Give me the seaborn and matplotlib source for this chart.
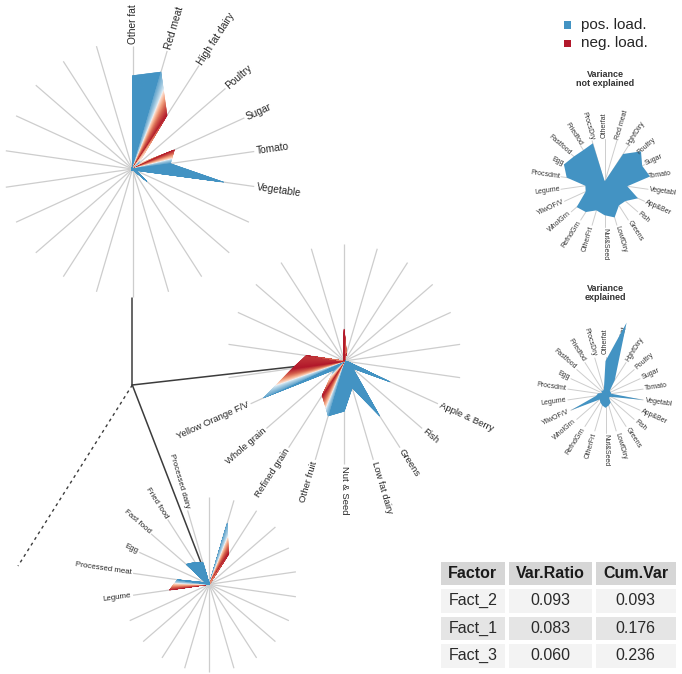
import numpy as np
import matplotlib
matplotlib.use("Agg")
import matplotlib.pyplot as plt
import seaborn as sns
from matplotlib.collections import PolyCollection
from matplotlib.colors import ListedColormap, LinearSegmentedColormap, to_rgb
from matplotlib.patches import Rectangle

sns.set_theme(style="white")
plt.rcParams['font.family'] = ['Liberation Sans', 'DejaVu Sans']

# ---------------- data ----------------
food_groups = ["Other fat", "Red meat", "High fat dairy", "Poultry", "Sugar", "Tomato",
               "Vegetable", "Apple & Berry", "Fish", "Greens", "Low fat dairy", "Nut & Seed",
               "Other fruit", "Refined grain", "Whole grain", "Yellow Orange F/V", "Legume",
               "Processed meat", "Egg", "Fast food", "Fried food", "Processed dairy"]
short_names = ["Otherfat", "Red meat", "HghfDiry", "Poultry", "Sugar", "Tomato", "Vegetabl",
               "App&Ber", "Fish", "Greens", "LowfDiry", "Nut&Seed", "OtherFrt", "RefndGrn",
               "WholGrn", "YllwOF/V", "Legume", "Procsdmt", "Egg", "Fastfood", "Friedfod",
               "ProcsDry"]

# signed loadings (fraction of spoke length)
loadings_top = [0.73, 0.79, -0.50, 0.06, -0.36, 0.30, 0.72, 0.03, 0.15, 0.01, 0.01,
                0.01, 0.01, 0.01, 0.01, 0.01, 0.01, 0.01, 0.01, 0.01, 0.01, 0.01]
loadings_mid = [-0.27, -0.07, 0.0, 0.0, 0.0, 0.0, 0.03, 0.43, 0.10, 0.56, 0.24,
                0.43, 0.49, -0.35, 0.12, 0.76, -0.45, -0.33, 0.0, 0.0, 0.0, 0.0]
loadings_bot = [0.0, 0.73, -0.41, 0.0, 0.0, 0.0, 0.0, 0.0, 0.0, 0.0, 0.0,
                0.0, 0.0, 0.0, 0.0, 0.0, -0.46, 0.37, 0.05, 0.35, 0.30, 0.26]

labels_top = ["Other fat", "Red meat", "High fat dairy", "Poultry", "Sugar", "Tomato", "Vegetable"]
labels_mid = ["Apple & Berry", "Fish", "Greens", "Low fat dairy", "Nut & Seed", "Other fruit",
              "Refined grain", "Whole grain", "Yellow Orange F/V"]
labels_bot = ["Legume", "Processed meat", "Egg", "Fast food", "Fried food", "Processed dairy"]

var_not_explained = [0.05, 0.05, 0.75, 1.05, 0.90, 1.0, 0.50, 0.80, 0.60, 0.58, 0.78,
                     0.70, 0.62, 0.75, 0.80, 0.45, 0.42, 0.83, 0.97, 0.88, 0.85, 0.90]
var_explained = [0.88, 1.97, 0.45, 0.15, 0.15, 0.15, 1.0, 0.15, 0.12, 0.25, 0.30,
                 0.35, 0.30, 0.25, 0.20, 1.0, 0.25, 0.20, 0.10, 0.15, 0.12, 0.15]

table_header = ["Factor", "Var.Ratio", "Cum.Var"]
factor_names = ["Fact_2", "Fact_1", "Fact_3"]
var_ratio = [0.093, 0.083, 0.060]
cum_var = [0.093, 0.176, 0.236]

legend_labels = ["pos. load.", "neg. load."]

# ---------------- style ----------------
BLUE = np.array(to_rgb("#4393c3"))
REDC = "#b2182b"
WHITE = np.array([1.0, 1.0, 1.0])
red_cmap = LinearSegmentedColormap.from_list(
    "reds", [(0.0, "#fde6da"), (0.3, "#f4a582"), (0.6, "#d6604d"), (1.0, "#b2182b")])
SPOKE = "#cdcdcd"
TXT = "#262626"
W, H = 682, 674

fig = plt.figure(figsize=(W / 100, H / 100), dpi=100)
ax = fig.add_axes([0, 0, 1, 1])
ax.set_xlim(0, W)
ax.set_ylim(H, 0)
ax.axis("off")

N = len(food_groups)
theta = np.arange(N) * 2 * np.pi / N


def slice_color(a, b, t):
    """Colour of a slice at fraction t along the chord from spoke a to spoke b."""
    if a * b < 0:
        tb = t if a > 0 else 1 - t
        pos, neg = max(a, b), -min(a, b)
        c = 0.72 * pos / (pos + neg)
        if tb < c:
            u = (c - tb) / c
            return tuple(WHITE + (BLUE - WHITE) * (0.85 * u ** 0.6))
        u = (tb - c) / (1 - c)
        return red_cmap(u)[:3]
    v = (1 - t) * a + t * b
    m = max(abs(a), abs(b), 1e-9)
    if v >= 0:
        return tuple(BLUE)
    return red_cmap(0.35 + 0.65 * abs(v) / m)[:3]


def label_props(th_deg):
    if th_deg <= 180.01:
        return 90 - th_deg, "left"
    return 270 - th_deg, "right"


def draw_factor(cx, cy, R, loads, labeled, r_lab, fs, M=60):
    for k in range(N):
        s, c = np.sin(theta[k]), np.cos(theta[k])
        is_lab = food_groups[k] in labeled
        L = r_lab if is_lab else R
        ax.plot([cx, cx + L * s], [cy, cy - L * c], color=SPOKE, lw=0.9, zorder=1,
                solid_capstyle="butt")
        if is_lab:
            rot, ha = label_props(np.degrees(theta[k]))
            ax.text(cx + (L + 2) * s, cy - (L + 2) * c, food_groups[k], rotation=rot,
                    ha=ha, va="center", rotation_mode="anchor", fontsize=fs, color=TXT,
                    zorder=5)
    vals = np.asarray(loads, dtype=float)
    pts = np.column_stack([cx + np.abs(vals) * R * np.sin(theta),
                           cy - np.abs(vals) * R * np.cos(theta)])
    polys, cols = [], []
    ts = np.linspace(0, 1, M + 1)
    tm = (ts[:-1] + ts[1:]) / 2
    for k in range(N):
        j = (k + 1) % N
        a, b = vals[k], vals[j]
        P = pts[k][None, :] * (1 - ts[:, None]) + pts[j][None, :] * ts[:, None]
        for i in range(M):
            polys.append([(cx, cy), tuple(P[i]), tuple(P[i + 1])])
            cols.append(slice_color(a, b, tm[i]))
    pc = PolyCollection(polys, facecolors=cols, edgecolors=cols, linewidths=0.3, zorder=3)
    ax.add_collection(pc)


def draw_radar(cx, cy, R_sp, R_val, R_lab, vals, fs=5.0, poly_on_top=False):
    for k in range(N):
        s, c = np.sin(theta[k]), np.cos(theta[k])
        ax.plot([cx, cx + R_sp * s], [cy, cy - R_sp * c], color=SPOKE, lw=0.7, zorder=1)
        rot, ha = label_props(np.degrees(theta[k]))
        ax.text(cx + R_lab * s, cy - R_lab * c, short_names[k], rotation=rot, ha=ha,
                va="center", rotation_mode="anchor", fontsize=fs, color="#333333", zorder=2)
    v = np.asarray(vals)
    xs = cx + v * R_val * np.sin(theta)
    ys = cy - v * R_val * np.cos(theta)
    ax.fill(xs, ys, color=BLUE, lw=0, zorder=3 if poly_on_top else 1.5)


# ---------------- layout ----------------
top_c, top_R = (132.5, 169.0), 128
mid_c, mid_R = (344.3, 361.0), 117
bot_c, bot_R = (209.3, 584.3), 87.5
junction = (132.3, 385.0)
dash_end = (18.0, 566.0)

# dendrogram connectors
lc = "#3c3c3c"
ax.plot([junction[0], junction[0]], [top_c[1] + top_R + 1, junction[1]], color=lc, lw=1.1, zorder=2)
ax.plot([junction[0], mid_c[0]], [junction[1], mid_c[1]], color=lc, lw=1.1, zorder=2)
ax.plot([junction[0], bot_c[0]], [junction[1], bot_c[1]], color=lc, lw=1.1, zorder=2)
ax.plot([junction[0], dash_end[0]], [junction[1], dash_end[1]], color=lc, lw=1.0,
        ls=(0, (2.2, 2.6)), zorder=2)

draw_factor(top_c[0], top_c[1], top_R, loadings_top, labels_top, 123, 7.3)
draw_factor(mid_c[0], mid_c[1], mid_R, loadings_mid, labels_mid, 103, 6.8)
draw_factor(bot_c[0], bot_c[1], bot_R, loadings_bot, labels_bot, 77, 5.7)

draw_radar(604.5, 183.0, 44, 46, 45, var_not_explained)
draw_radar(605.5, 394.5, 38, 38, 40, var_explained, poly_on_top=True)
ax.text(605, 79, "Variance\nnot explained", ha="center", va="center", fontsize=6.5,
        fontweight="bold", color="#333333", linespacing=1.1)
ax.text(605, 293, "Variance\nexplained", ha="center", va="center", fontsize=6.5,
        fontweight="bold", color="#333333", linespacing=1.1)

# legend
for i, (lab, col) in enumerate(zip(legend_labels, [BLUE, REDC])):
    y = 25 + 18.3 * i
    ax.add_patch(Rectangle((564.2, y - 3.6), 7.2, 7.2, color=col, lw=0, zorder=5))
    ax.text(581, y, lab, ha="left", va="center", fontsize=11, color=TXT)

# ---------------- table (seaborn heatmaps) ----------------
row_style = np.array([[0], [1], [2], [1]], dtype=float)
tcmap = ListedColormap(["#d6d6d6", "#f3f3f3", "#e5e5e5"])
col_edges = [439, 506.5, 593.5, 678]
t_top, t_bot = 559.5, 669.5
columns = [
    [table_header[0]] + factor_names,
    [table_header[1]] + [f"{v:.3f}" for v in var_ratio],
    [table_header[2]] + [f"{v:.3f}" for v in cum_var],
]
for ci in range(3):
    x0, x1 = col_edges[ci], col_edges[ci + 1]
    tax = fig.add_axes([x0 / W, (H - t_bot) / H, (x1 - x0) / W, (t_bot - t_top) / H])
    annot = np.array(columns[ci], dtype=object).reshape(-1, 1)
    sns.heatmap(row_style, ax=tax, cmap=tcmap, vmin=-0.5, vmax=2.5, cbar=False,
                annot=annot, fmt="", linewidths=1.6, linecolor="white",
                xticklabels=False, yticklabels=False,
                annot_kws={"fontsize": 11.5, "color": "#2a2a2a"})
    for ti, txt in enumerate(tax.texts):
        if ti == 0:
            txt.set_fontweight("bold")
            txt.set_color("#1a1a1a")
    tax.set_xlabel("")
    tax.set_ylabel("")

fig.savefig("out.png", dpi=100)
